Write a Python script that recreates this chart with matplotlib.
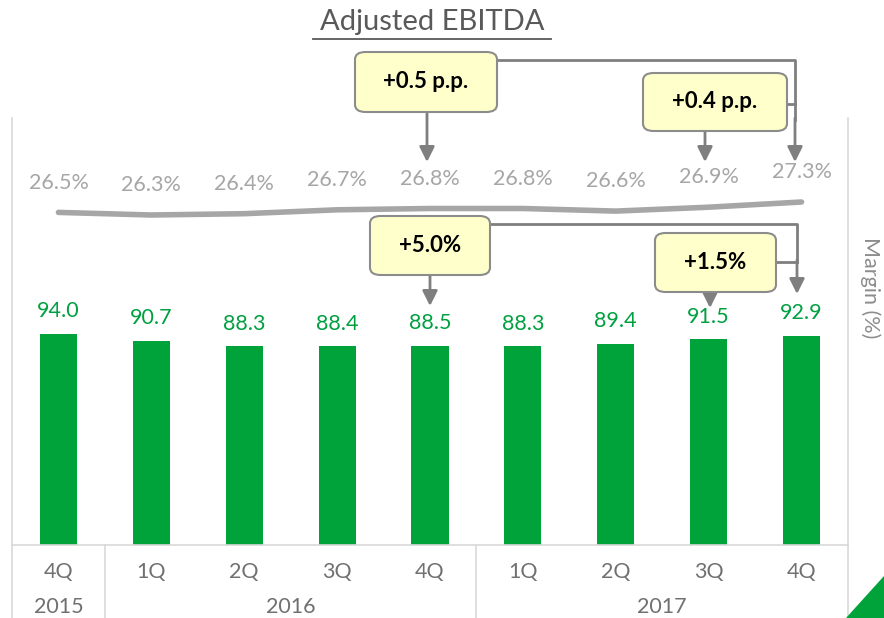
import matplotlib
matplotlib.use("Agg")
import matplotlib.pyplot as plt
from matplotlib.patches import FancyBboxPatch, Polygon
from matplotlib.lines import Line2D

# -- data --
quarters = ["4Q", "1Q", "2Q", "3Q", "4Q", "1Q", "2Q", "3Q", "4Q"]
years = ["2015", "2016", "2017"]
year_centers = [0, 2.5, 6.5]
ebitda = [94.0, 90.7, 88.3, 88.4, 88.5, 88.3, 89.4, 91.5, 92.9]
margin = [26.5, 26.3, 26.4, 26.7, 26.8, 26.8, 26.6, 26.9, 27.3]
callouts = ["+0.5 p.p.", "+0.4 p.p.", "+5.0%", "+1.5%"]

W, H = 884, 618
GREEN = "#00A33A"
GREEN_TXT = "#00A040"
GRAY_LINE = "#D9D9D9"
ARROW = "#7F7F7F"
plt.rcParams["font.family"] = ["Lato", "DejaVu Sans"]
LBL = dict(fontsize=15.5)


def fx(px):
    return px / W


def fy(py):
    return 1 - py / H


fig = plt.figure(figsize=(W / 100, H / 100), dpi=100)
fig.patch.set_facecolor("white")

# bars axis: frame from x=12..848, baseline at y=545, top at y=118
ax = fig.add_axes([fx(12), fy(545), fx(848) - fx(12), fy(118) - fy(545)])
ax.set_xlim(-0.5, len(quarters) - 0.5)
ax.set_ylim(0, (545 - 118) / 2.25)
x = list(range(len(quarters)))
ax.bar(x, ebitda, width=0.4, color=GREEN, zorder=2)
for xi, v in zip(x, ebitda):
    ax.annotate(f"{v:.1f}", (xi, v), xytext=(0, 9), textcoords="offset points",
                ha="center", va="bottom", color=GREEN_TXT, **LBL)

ax.spines["top"].set_visible(False)
for s in ["left", "right", "bottom"]:
    ax.spines[s].set_color(GRAY_LINE)
    ax.spines[s].set_linewidth(1.2)
ax.set_xticks([])
ax.set_yticks([])

# category axis below the baseline
xt = ax.get_xaxis_transform()
for xi, q in zip(x, quarters):
    ax.text(xi, -0.064, q, transform=xt, ha="center", va="center",
            color="#707070", **LBL)
for xc, yr in zip(year_centers, years):
    ax.text(xc, -0.146, yr, transform=xt, ha="center", va="center",
            color="#707070", **LBL)
for xs in [-0.5, 0.5, 4.5, 8.5]:
    ax.plot([xs, xs], [0, -0.2], transform=xt, color=GRAY_LINE, lw=1.2,
            clip_on=False)

# margin line on a secondary scale
ax2 = ax.twinx()
ax2.set_ylim(26.3 - (545 - 215) / 13, 27.3 + (202 - 118) / 13)
ax2.plot(x, margin, color="#A6A6A6", lw=4, solid_capstyle="round", zorder=3)
for xi, m in zip(x, margin):
    ax2.annotate(f"{m:.1f}%", (xi, m), xytext=(0, 21.5), textcoords="offset points",
                 ha="center", va="center", color="#A6A6A6", **LBL)
ax2.set_yticks([])
for s in ax2.spines.values():
    s.set_visible(False)

# title with underline
fig.text(fx(432), fy(22), "Adjusted EBITDA", ha="center", va="center",
         fontsize=21, color="#595959")
fig.add_artist(Line2D([fx(313), fx(551)], [fy(39), fy(39)], color="#595959", lw=1.3))

fig.text(fx(870), fy(288), "Margin (%)", rotation=-90, ha="center", va="center",
         color="#8C8C8C", **LBL)

# call-out boxes (left, top, right, bottom in pixels)
boxes = [(355, 52, 497, 112), (643, 73, 787, 131), (370, 216, 490, 275), (655, 233, 776, 292)]
for (l, t, r, b), lab in zip(boxes, callouts):
    fig.add_artist(FancyBboxPatch((fx(l), fy(b)), fx(r) - fx(l), fy(t) - fy(b),
                                  boxstyle="round,pad=0,rounding_size=0.012",
                                  transform=fig.transFigure, facecolor="#FFFFCC",
                                  edgecolor="#8C8C8C", lw=1.5, zorder=5))
    fig.text(fx((l + r) / 2), fy((t + b) / 2), lab, ha="center", va="center",
             fontsize=16, fontweight="bold", color="black", zorder=6)


def seg(pts):
    fig.add_artist(Line2D([fx(p[0]) for p in pts], [fy(p[1]) for p in pts],
                          color=ARROW, lw=2, zorder=4))


def arrow(x0, y0, x1, y1):
    fig.add_artist(plt.Annotation("", xy=(x1, H - y1), xytext=(x0, H - y0),
                                  xycoords="figure pixels", textcoords="figure pixels",
                                  arrowprops=dict(arrowstyle="-|>,head_length=0.9,head_width=0.45",
                                                  color=ARROW, lw=2, shrinkA=0, shrinkB=0)))


# margin call-outs
seg([(497, 60), (795, 60), (795, 120)])
seg([(787, 104), (795, 104)])
arrow(795, 118, 795, 162)
arrow(427, 112, 427, 162)
arrow(705, 131, 705, 162)

# EBITDA call-outs
seg([(490, 224), (797, 224), (797, 262)])
seg([(776, 262), (797, 262)])
arrow(797, 260, 797, 294)
arrow(430, 275, 430, 306)
arrow(710, 291, 710, 308)

# corner accent
fig.add_artist(Polygon([(fx(846), fy(618)), (fx(884), fy(618)), (fx(884), fy(576))],
                       closed=True, transform=fig.transFigure, facecolor=GREEN,
                       edgecolor="none"))

fig.savefig("out.png", dpi=100, facecolor="white")
